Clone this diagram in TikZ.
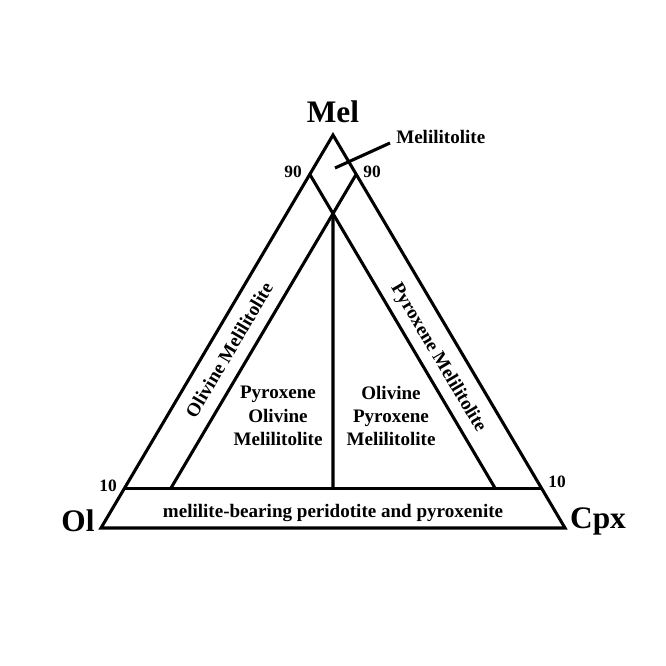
\documentclass[tikz,border=0pt]{standalone}
\usepackage{fontspec}
\setmainfont{Liberation Serif}
\begin{document}
\begin{tikzpicture}[x=0.75pt,y=-0.75pt,
  edge/.style={line width=2.3pt,line join=miter},
  lbl/.style={font=\bfseries\fontsize{14.3}{17.5}\selectfont,align=center,inner sep=0pt},
  corner/.style={font=\bfseries\fontsize{23.5}{28}\selectfont,inner sep=0pt},
  tick/.style={font=\bfseries\fontsize{13}{15}\selectfont,inner sep=0pt}]
\useasboundingbox (0,0) rectangle (666,666);
\coordinate (A) at (333,135);
\coordinate (L) at (101,528);
\coordinate (R) at (565,528);
\coordinate (a9l) at (barycentric cs:A=0.9,L=0.1,R=0);
\coordinate (a9r) at (barycentric cs:A=0.9,L=0,R=0.1);
\coordinate (a1l) at (barycentric cs:A=0.1,L=0.9,R=0);
\coordinate (a1r) at (barycentric cs:A=0.1,L=0,R=0.9);
\coordinate (c10) at (barycentric cs:A=0.1,L=0.8,R=0.1);
\coordinate (o10) at (barycentric cs:A=0.1,L=0.1,R=0.8);
\coordinate (mid) at (barycentric cs:A=0.8,L=0.1,R=0.1);
\coordinate (bot) at (barycentric cs:A=0.1,L=0.45,R=0.45);
\draw[edge] (A) -- (L) -- (R) -- cycle;
\draw[edge] (a1l) -- (a1r);
\draw[edge] (a9r) -- (c10);
\draw[edge] (a9l) -- (o10);
\draw[edge] (mid) -- (bot);
% labels
\node[corner] (mel) at (333,112) {Mel};
\node[corner] (ol) at (78,521) {Ol};
\node[corner] (cpx) at (598,521) {Cpx};
\node[tick] (t90l) at (293,172) {90};
\node[tick] (t90r) at (372,172) {90};
\node[tick] (t10l) at (108,486) {10};
\node[tick] (t10r) at (557,482) {10};
\node[lbl,anchor=west] (mlt) at (396,137) {Melilitolite};
\coordinate (ptr) at (335,168);
\coordinate (ptrend) at (390,143);
\draw[line width=2.3pt] (ptr) -- (ptrend);
\node[lbl] (pom) at (278,416) {Pyroxene\\Olivine\\Melilitolite};
\node[lbl] (opm) at (391,416) {Olivine\\Pyroxene\\Melilitolite};
\node[lbl,rotate=59.3] (om) at (229,350) {Olivine Melilitolite};
\node[lbl,rotate=-59.3] (pm) at (438,358) {Pyroxene Melilitolite};
\node[lbl] (base) at (333,513) {melilite-bearing peridotite and pyroxenite};
\end{tikzpicture}
\end{document}
